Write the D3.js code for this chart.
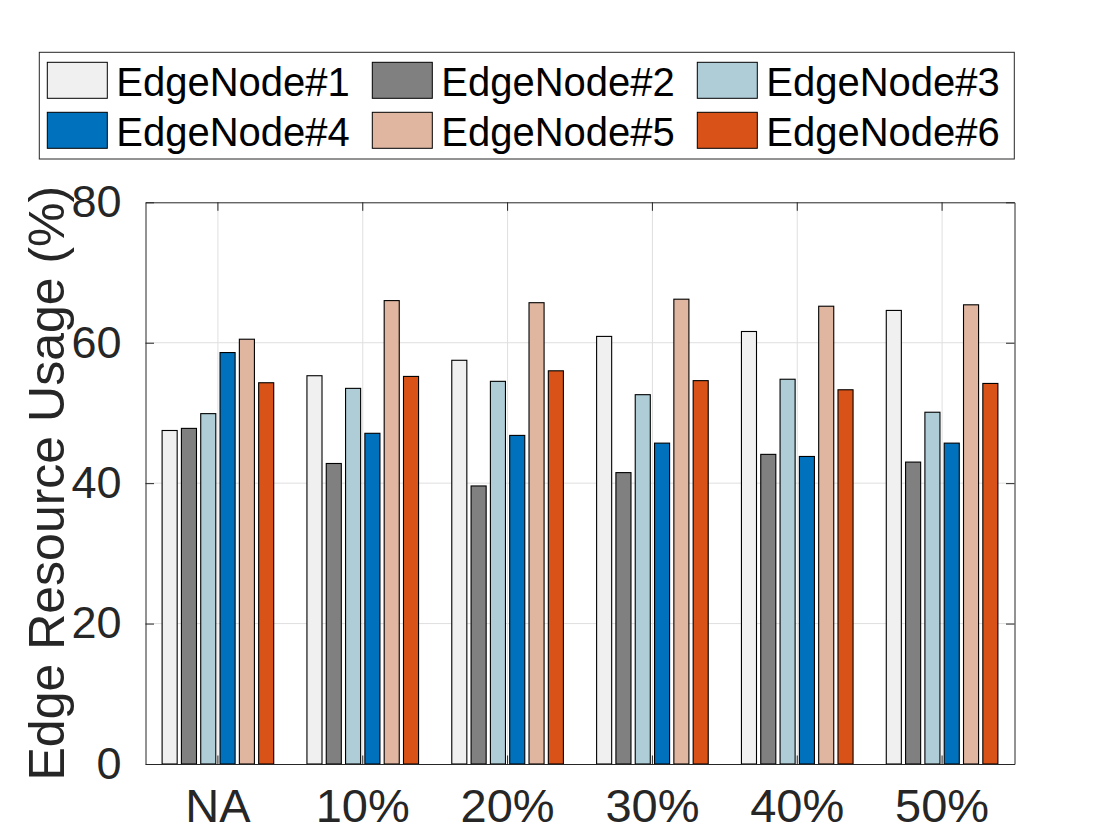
<!DOCTYPE html>
<html>
<head>
<meta charset="utf-8">
<script src="https://cdn.jsdelivr.net/npm/d3@7"></script>
<style>
  body { margin: 0; background: #fff; }
  svg { display: block; font-family: "Liberation Sans", Arial, Helvetica, sans-serif; }
</style>
</head>
<body>
<div id="chart"></div>
<script>
// categories on the x axis
const categories = ['NA', '10%', '20%', '30%', '40%', '50%'];
// one entry per edge node
const seriesNames = ['EdgeNode#1', 'EdgeNode#2', 'EdgeNode#3', 'EdgeNode#4', 'EdgeNode#5', 'EdgeNode#6'];
const seriesColors = ['#f0f0f0', '#808080', '#aecdd6', '#0072bd', '#e0b6a0', '#d95319'];
// usage (%) per category, one array per node
const node1 = [47.5, 55.3, 57.5, 60.9, 61.6, 64.6];
const node2 = [47.8, 42.8, 39.6, 41.5, 44.1, 43.0];
const node3 = [49.9, 53.5, 54.5, 52.6, 54.8, 50.1];
const node4 = [58.6, 47.1, 46.8, 45.7, 43.8, 45.7];
const node5 = [60.5, 66.0, 65.7, 66.2, 65.2, 65.4];
const node6 = [54.3, 55.2, 56.0, 54.6, 53.3, 54.2];
const yTicks = [0, 20, 40, 60, 80];

const seriesValues = [node1, node2, node3, node4, node5, node6];

const W = 1120, H = 840;
const plot = {left: 145.5, right: 1014.5, top: 202.3, bottom: 764};
const axisColor = '#262626';

const svg = d3.select('#chart')
  .append('svg')
  .attr('width', W)
  .attr('height', H);

// scales
const x0 = d3.scaleBand()
  .domain(categories)
  .range([plot.left, plot.right])
  .padding(0);

const groupW = x0.bandwidth() * 0.8;
const x1 = d3.scaleBand()
  .domain(seriesNames)
  .range([0, groupW])
  .paddingInner(0.22)
  .paddingOuter(0.11);

const y = d3.scaleLinear()
  .domain([0, 80])
  .range([plot.bottom, plot.top]);

// grid
const grid = svg.append('g').attr('stroke', '#dfdfdf').attr('stroke-width', 1);
grid.selectAll('line.h')
  .data(yTicks.slice(1, -1))
  .join('line')
  .attr('x1', plot.left).attr('x2', plot.right)
  .attr('y1', d => y(d)).attr('y2', d => y(d));
grid.selectAll('line.v')
  .data(categories)
  .join('line')
  .attr('x1', d => x0(d) + x0.bandwidth() / 2)
  .attr('x2', d => x0(d) + x0.bandwidth() / 2)
  .attr('y1', plot.top).attr('y2', plot.bottom);

// bars
const rows = [];
categories.forEach((c, i) => {
  seriesNames.forEach((s, j) => rows.push({cat: c, series: s, color: seriesColors[j], value: seriesValues[j][i]}));
});

svg.append('g')
  .selectAll('rect')
  .data(rows)
  .join('rect')
  .attr('x', d => x0(d.cat) + x0.bandwidth() * 0.1 + x1(d.series))
  .attr('y', d => y(d.value))
  .attr('width', x1.bandwidth())
  .attr('height', d => y(0) - y(d.value))
  .attr('fill', d => d.color)
  .attr('stroke', '#000')
  .attr('stroke-width', 1.1);

// axes (inward ticks, box)
const tickLen = 8.5;
const yAxisL = svg.append('g')
  .attr('transform', `translate(${plot.left},0)`)
  .call(d3.axisLeft(y).tickValues(yTicks).tickSizeInner(-tickLen).tickSizeOuter(0).tickPadding(15.5 + tickLen));
yAxisL.select('.domain').attr('stroke', axisColor);
yAxisL.selectAll('.tick line').attr('stroke', axisColor);
yAxisL.selectAll('.tick text')
  .attr('fill', axisColor)
  .style('font-size', '45px');

const yAxisR = svg.append('g')
  .attr('transform', `translate(${plot.right},0)`)
  .call(d3.axisRight(y).tickValues(yTicks).tickSizeInner(-tickLen).tickSizeOuter(0).tickFormat(''));
yAxisR.select('.domain').attr('stroke', axisColor);
yAxisR.selectAll('.tick line').attr('stroke', axisColor);

const xAxisB = svg.append('g')
  .attr('transform', `translate(0,${plot.bottom})`)
  .call(d3.axisBottom(x0).tickSizeInner(-tickLen).tickSizeOuter(0).tickPadding(0));
xAxisB.select('.domain').attr('stroke', axisColor);
xAxisB.selectAll('.tick line').attr('stroke', axisColor);
xAxisB.selectAll('.tick text')
  .attr('fill', axisColor)
  .attr('y', 57.7)
  .attr('dy', null)
  .style('font-size', '47px');

const xAxisT = svg.append('g')
  .attr('transform', `translate(0,${plot.top})`)
  .call(d3.axisTop(x0).tickSizeInner(-tickLen).tickSizeOuter(0).tickFormat(''));
xAxisT.select('.domain').attr('stroke', axisColor);
xAxisT.selectAll('.tick line').attr('stroke', axisColor);

// y label
svg.append('text')
  .attr('transform', `translate(64,${(plot.top + plot.bottom) / 2}) rotate(-90)`)
  .attr('text-anchor', 'middle')
  .attr('fill', axisColor)
  .style('font-size', '50px')
  .text('Edge Resource Usage (%)');

// legend
const legend = svg.append('g');
legend.append('rect')
  .attr('x', 39.3).attr('y', 52.3)
  .attr('width', 975).attr('height', 106.7)
  .attr('fill', '#fff')
  .attr('stroke', axisColor)
  .attr('stroke-width', 1);

const item = legend.selectAll('g.item')
  .data(seriesNames)
  .join('g')
  .attr('transform', (d, i) => `translate(${47.3 + (i % 3) * 325},${62.3 + Math.floor(i / 3) * 50})`);

item.append('rect')
  .attr('width', 60).attr('height', 36)
  .attr('fill', (d, i) => seriesColors[i])
  .attr('stroke', '#000')
  .attr('stroke-width', 1);

item.append('text')
  .attr('x', 69)
  .attr('y', 33.7)
  .attr('fill', '#000')
  .style('font-size', '40px')
  .text(d => d);
</script>
</body>
</html>
